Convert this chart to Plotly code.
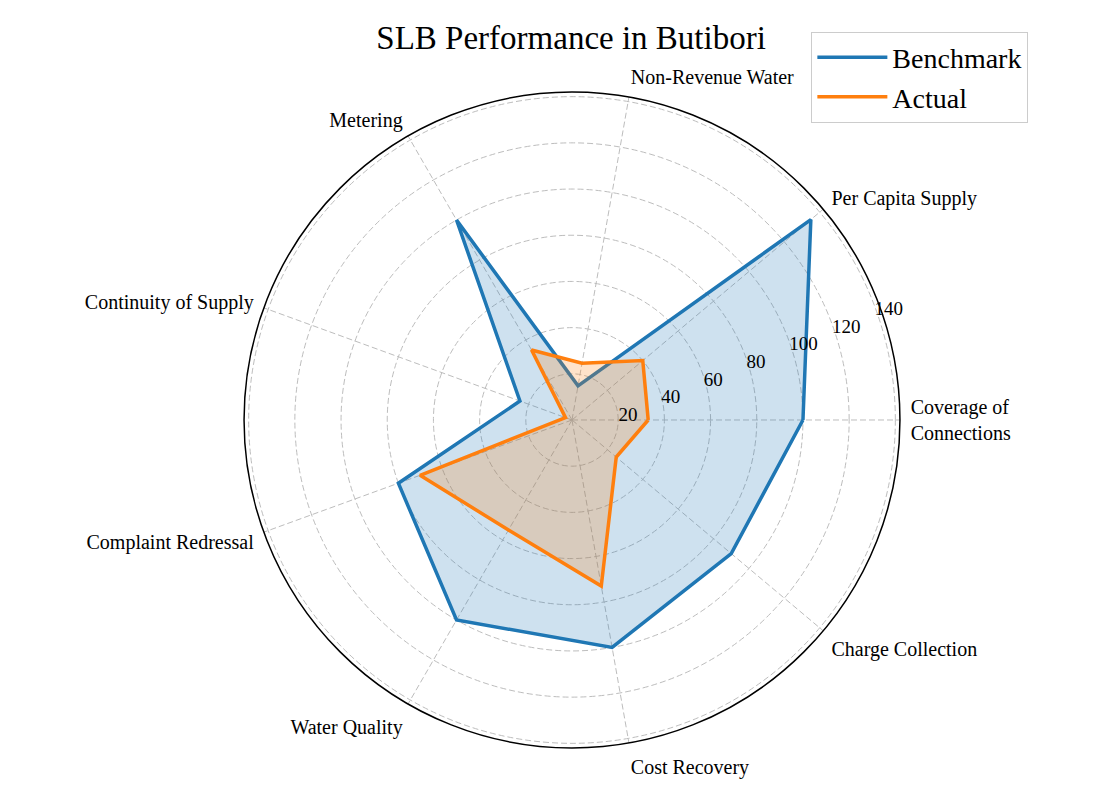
import plotly.graph_objects as go

# SLB indicators
categories = [
    "Coverage of<br>Connections",
    "Per Capita Supply",
    "Non-Revenue Water",
    "Metering",
    "Continuity of Supply",
    "Complaint Redressal",
    "Water Quality",
    "Cost Recovery",
    "Charge Collection",
]
benchmark = [100, 135, 15, 100, 24, 80, 100, 100, 90]
actual = [33, 40, 25, 35, 3, 70, 55, 73, 25]

radial_ticks = [20, 40, 60, 80, 100, 120, 140]

series_names = ["Benchmark", "Actual"]
line_colors = ["#1f77b4", "#ff7f0e"]
fill_colors = ["rgba(31,119,180,0.22)", "rgba(255,127,14,0.22)"]

FONT = "Liberation Serif, Times New Roman, serif"


def closed(values):
    # repeat the first point so the polygon closes
    return list(values) + [values[0]]


fig = go.Figure()

for name, values, lc, fc in zip(series_names, [benchmark, actual], line_colors, fill_colors):
    fig.add_trace(go.Scatterpolar(
        r=closed(values),
        theta=closed(categories),
        mode="lines",
        name=name,
        legendgroup=name,
        showlegend=False,
        line=dict(color=lc, width=3.5),
        fill="toself",
        fillcolor=fc,
    ))

# legend entries drawn as plain lines (like the reference)
for name, lc in zip(series_names, line_colors):
    fig.add_trace(go.Scatterpolar(
        r=[None], theta=[None],
        mode="lines",
        name=name,
        legendgroup=name,
        line=dict(color=lc, width=3.5),
    ))

fig.update_layout(
    width=1102,
    height=787,
    margin=dict(l=0, r=0, t=0, b=0),
    paper_bgcolor="white",
    font=dict(family=FONT, color="black"),
    title=dict(
        text="SLB Performance in Butibori",
        font=dict(family=FONT, size=33, color="black"),
        x=0.511, xanchor="center",
        y=0.962, yanchor="middle", yref="container",
    ),
    legend=dict(
        x=0.729, y=0.97, xanchor="left", yanchor="top",
        font=dict(family=FONT, size=28, color="black"),
        bordercolor="#cccccc", borderwidth=1, bgcolor="white",
        traceorder="normal",
        itemwidth=70,
    ),
    polar=dict(
        domain=dict(x=[0.2142, 0.8094], y=[0.0597, 0.8933]),
        bgcolor="white",
        radialaxis=dict(
            range=[0, 142],
            tickvals=radial_ticks,
            angle=22.5,
            tickangle=22.5,
            showline=False,
            ticks="",
            gridcolor="#bdbdbd",
            griddash="6px,3px",
            gridwidth=1.2,
            tickfont=dict(family=FONT, size=19, color="black"),
        ),
        angularaxis=dict(
            rotation=0,
            direction="counterclockwise",
            showline=True,
            linecolor="black",
            linewidth=1.5,
            gridcolor="#bdbdbd",
            griddash="6px,3px",
            gridwidth=1.2,
            ticks="outside",
            ticklen=6,
            tickcolor="rgba(0,0,0,0)",
            tickfont=dict(family=FONT, size=20, color="black"),
        ),
    ),
)

fig.write_html("out.html")
